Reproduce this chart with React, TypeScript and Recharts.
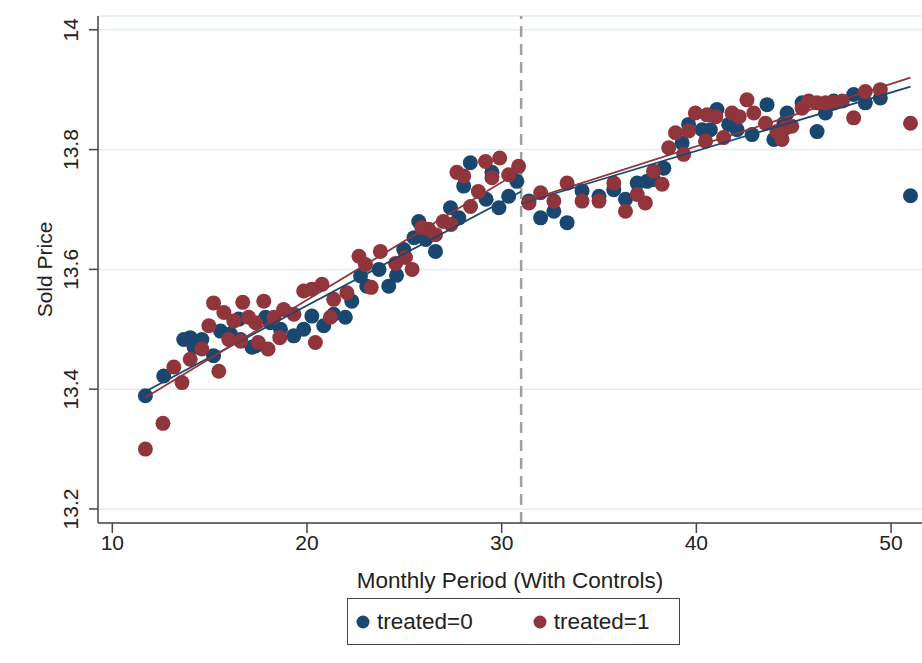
import React from 'react';
import { ScatterChart, Scatter, XAxis, YAxis, CartesianGrid, ReferenceLine, Legend } from 'recharts';

// treated = 0 (blue)
const control_x = [11.7, 12.64, 13.67, 14.0, 14.2, 14.6, 15.2, 15.56, 16.07, 16.5, 16.58, 17.17, 17.35, 17.87, 18.12, 18.64, 19.32, 19.83, 20.25, 20.86, 21.37, 21.97, 22.3, 22.75, 23.07, 23.7, 24.2, 24.6, 24.97, 25.5, 25.74, 26.1, 26.6, 27.37, 27.8, 28.05, 28.39, 29.2, 29.5, 29.86, 30.36, 30.78,
  31.4, 32.0, 32.68, 33.36, 34.13, 35.0, 35.76, 36.36, 36.96, 37.47, 37.8, 38.33, 39.27, 39.6, 40.3, 40.72, 41.06, 41.66, 42.09, 42.86, 43.63, 43.98, 44.5, 44.66, 45.43, 46.2, 46.63, 47.06, 48.08, 48.68, 49.45, 51.0];
const control_y = [13.389, 13.422, 13.483, 13.486, 13.47, 13.483, 13.456, 13.497, 13.492, 13.517, 13.483, 13.47, 13.472, 13.52, 13.511, 13.5, 13.489, 13.5, 13.522, 13.506, 13.525, 13.52, 13.547, 13.589, 13.572, 13.6, 13.572, 13.59, 13.633, 13.653, 13.68, 13.65, 13.63, 13.703, 13.686, 13.739, 13.778, 13.717, 13.762, 13.703, 13.722, 13.747,
  13.714, 13.686, 13.697, 13.678, 13.731, 13.722, 13.733, 13.717, 13.744, 13.747, 13.75, 13.769, 13.811, 13.842, 13.833, 13.833, 13.867, 13.842, 13.833, 13.825, 13.875, 13.817, 13.844, 13.861, 13.878, 13.83, 13.861, 13.881, 13.892, 13.878, 13.886, 13.723];

// treated = 1 (red)
const treated_x = [11.7, 12.6, 13.16, 13.58, 14.0, 14.6, 14.96, 15.2, 15.47, 15.73, 15.98, 16.24, 16.7, 16.6, 17.0, 17.36, 17.5, 17.78, 18.0, 18.3, 18.6, 18.8, 19.33, 19.83, 20.25, 20.43, 20.77, 21.37, 21.2, 22.05, 22.67, 23.0, 23.3, 23.77, 24.55, 25.06, 25.4, 25.9, 26.25, 26.6, 27.0, 27.4, 27.7, 28.05, 28.4, 28.8, 29.17, 29.5, 29.9, 30.36, 30.87,
  31.4, 32.0, 32.68, 33.36, 34.13, 35.0, 35.76, 36.36, 36.96, 37.38, 37.8, 38.24, 38.58, 38.93, 39.35, 39.6, 39.95, 40.47, 40.55, 41.0, 41.4, 41.83, 42.2, 42.6, 42.95, 43.55, 44.14, 44.4, 44.58, 44.9, 45.43, 45.77, 46.2, 46.63, 47.06, 47.5, 48.08, 48.68, 49.45, 51.0];
const treated_y = [13.3, 13.343, 13.437, 13.411, 13.45, 13.467, 13.506, 13.544, 13.43, 13.528, 13.483, 13.514, 13.545, 13.48, 13.52, 13.511, 13.478, 13.547, 13.467, 13.52, 13.486, 13.533, 13.525, 13.564, 13.567, 13.478, 13.575, 13.55, 13.52, 13.561, 13.622, 13.608, 13.57, 13.63, 13.61, 13.62, 13.6, 13.67, 13.667, 13.658, 13.68, 13.675, 13.762, 13.756, 13.705, 13.73, 13.78, 13.753, 13.786, 13.758, 13.772,
  13.711, 13.728, 13.714, 13.744, 13.714, 13.714, 13.744, 13.697, 13.725, 13.711, 13.764, 13.742, 13.803, 13.828, 13.792, 13.831, 13.861, 13.814, 13.858, 13.855, 13.82, 13.861, 13.855, 13.883, 13.861, 13.844, 13.83, 13.817, 13.836, 13.839, 13.869, 13.881, 13.878, 13.878, 13.878, 13.881, 13.853, 13.897, 13.9, 13.844];

// linear fits, before / after the cutoff
const fit_control_pre_x = [11.7, 31.0];
const fit_control_pre_y = [13.396, 13.73];
const fit_treated_pre_x = [11.7, 31.0];
const fit_treated_pre_y = [13.386, 13.765];
const fit_control_post_x = [31.0, 51.0];
const fit_control_post_y = [13.71, 13.905];
const fit_treated_post_x = [31.0, 51.0];
const fit_treated_post_y = [13.712, 13.92];

const cutoff = 31;
const xTicks = [10, 20, 30, 40, 50];
const yTicks = [13.2, 13.4, 13.6, 13.8, 14];
const seriesNames = ['treated=0', 'treated=1'];

const BLUE = '#1a476f';
const RED = '#90353b';
const FONT = '"Liberation Sans", Arial, Helvetica, sans-serif';

const zip = (xs: number[], ys: number[]) => xs.map((x, i) => ({ x, y: ys[i] }));

const controlData = zip(control_x, control_y);
const treatedData = zip(treated_x, treated_y);
const fitCPre = zip(fit_control_pre_x, fit_control_pre_y);
const fitTPre = zip(fit_treated_pre_x, fit_treated_pre_y);
const fitCPost = zip(fit_control_post_x, fit_control_post_y);
const fitTPost = zip(fit_treated_post_x, fit_treated_post_y);

const Dot = (color: string) => (props: any) => (
  <circle cx={props.cx} cy={props.cy} r={7.5} fill={color} />
);
const NoShape = () => <g />;

const YTick = (props: any) => {
  const { x, y, payload } = props;
  const bx = x - 9;
  return (
    <text x={bx} y={y} transform={`rotate(-90, ${bx}, ${y})`} textAnchor="middle" fontSize={21} fill="#222" fontFamily={FONT}>
      {String(payload.value)}
    </text>
  );
};

const LegendBox = () => (
  <div style={{ boxSizing: 'border-box', width: 333, height: 47, border: '1.5px solid #444', background: '#fff', display: 'flex', alignItems: 'center', fontFamily: FONT, fontSize: 22.5, color: '#222' }}>
    {seriesNames.map((n, i) => (
      <div key={n} style={{ display: 'flex', alignItems: 'center', marginLeft: i === 0 ? 8 : 60 }}>
        <svg width={14} height={14} style={{ marginRight: 7 }}>
          <circle cx={7} cy={7} r={6.5} fill={i === 0 ? BLUE : RED} />
        </svg>
        <span>{n}</span>
      </div>
    ))}
  </div>
);

export default function App() {
  return (
    <div style={{ width: 922, height: 663, position: 'relative', background: '#fff' }}>
      <style>{`body{margin:0;}`}</style>
      <ScatterChart width={922} height={663} margin={{ top: 16, right: 0, bottom: 18, left: 0 }}>
        <CartesianGrid horizontal={true} vertical={false} stroke="#e4eef1" strokeWidth={1.5} />
        <XAxis
          type="number"
          dataKey="x"
          domain={[9.265, 51.59]}
          allowDataOverflow
          ticks={xTicks}
          tickSize={10}
          height={75}
          stroke="#444"
          strokeWidth={1.5}
          tick={{ fontSize: 21, fill: '#222', fontFamily: FONT }}
          label={{ value: 'Monthly Period (With Controls)', position: 'insideBottom', offset: 10, fontSize: 22.5, fill: '#222', fontFamily: FONT }}
        />
        <YAxis
          type="number"
          dataKey="y"
          domain={[13.1766, 14.023]}
          allowDataOverflow
          ticks={yTicks}
          tickSize={9}
          width={98}
          stroke="#444"
          strokeWidth={1.5}
          tick={<YTick />}
          label={{ value: 'Sold Price', angle: -90, position: 'center', dx: -4, fontSize: 21, fill: '#222', fontFamily: FONT }}
        />
        <ReferenceLine x={cutoff} stroke="#a0a0a0" strokeWidth={2.5} strokeDasharray="11 7" />
        <Scatter name={seriesNames[0]} data={controlData} fill={BLUE} shape={Dot(BLUE)} isAnimationActive={false} />
        <Scatter name={seriesNames[1]} data={treatedData} fill={RED} shape={Dot(RED)} isAnimationActive={false} />
        <Scatter data={fitCPre} line={{ stroke: BLUE, strokeWidth: 1.8 }} shape={NoShape} legendType="none" isAnimationActive={false} />
        <Scatter data={fitCPost} line={{ stroke: BLUE, strokeWidth: 1.8 }} shape={NoShape} legendType="none" isAnimationActive={false} />
        <Scatter data={fitTPre} line={{ stroke: RED, strokeWidth: 1.8 }} shape={NoShape} legendType="none" isAnimationActive={false} />
        <Scatter data={fitTPost} line={{ stroke: RED, strokeWidth: 1.8 }} shape={NoShape} legendType="none" isAnimationActive={false} />
        <Legend verticalAlign="bottom" height={47} content={<LegendBox />} wrapperStyle={{ left: 347, width: 333 }} />
      </ScatterChart>
    </div>
  );
}
